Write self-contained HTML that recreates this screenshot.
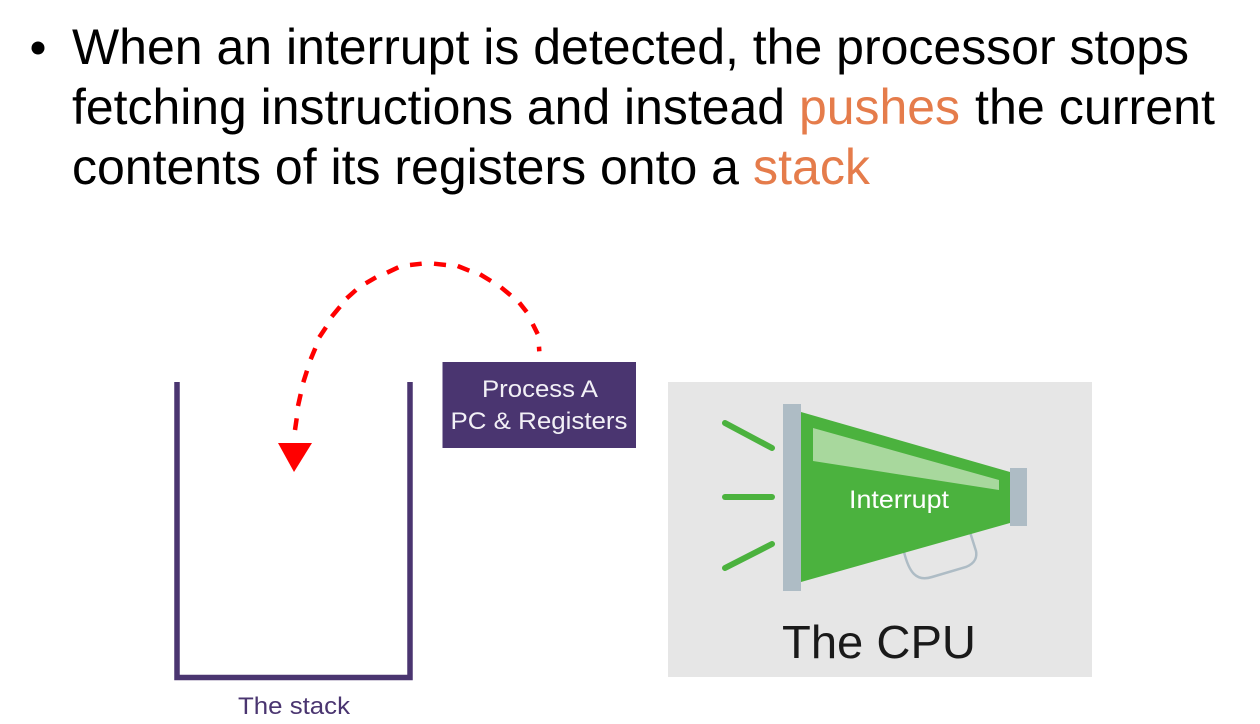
<!DOCTYPE html>
<html>
<head>
<meta charset="utf-8">
<style>
html,body{margin:0;padding:0;background:#fff;width:1260px;height:724px;overflow:hidden}
svg{display:block}
text{font-family:"Liberation Sans",sans-serif}
</style>
</head>
<body>
<svg width="1260" height="724" viewBox="0 0 1260 724" xmlns="http://www.w3.org/2000/svg">
<rect width="1260" height="724" fill="#fff"/>
<circle cx="38" cy="48" r="6.5" fill="#000"/>
<g font-size="50" fill="#000">
<text x="72" y="64" textLength="1117" lengthAdjust="spacingAndGlyphs">When an interrupt is detected, the processor stops</text>
<text x="72" y="124" textLength="713" lengthAdjust="spacingAndGlyphs">fetching instructions and instead</text>
<text x="799" y="124" fill="#e57c4b" textLength="161" lengthAdjust="spacingAndGlyphs">pushes</text>
<text x="975" y="124" textLength="240" lengthAdjust="spacingAndGlyphs">the current</text>
<text x="72" y="184" textLength="667" lengthAdjust="spacingAndGlyphs">contents of its registers onto a</text>
<text x="753" y="184" fill="#e57c4b" textLength="117" lengthAdjust="spacingAndGlyphs">stack</text>
</g>

<!-- stack -->
<path d="M177 382V677.5H410V382" fill="none" stroke="#4a3570" stroke-width="5.5"/>
<text x="294" y="714" font-size="24.5" fill="#4a3570" text-anchor="middle" textLength="112" lengthAdjust="spacingAndGlyphs">The stack</text>

<!-- arrow: individual dashes -->
<path fill="none" stroke="#ff0000" stroke-width="4.500" d="
M539 346.700L539.300 351.300
M532.700 324L537.700 334
M519.300 302.700L526.700 312
M501 287.300L510.700 295.300
M480 274.300L491 281
M457.700 266L469.300 270.700
M434 263.700L446 265
M410 265L421.700 263.700
M387 272.700L398.300 267.300
M365.700 283.300L376 277.300
M346.700 298.300L356 290
M331.700 316.700L340 306.700
M319.300 337.300L326 327.300
M310.700 359.300L315.300 348.300
M303.300 382.300L307 370.700
M298 406L300.700 394
M295 430L296.700 418.300"/>
<polygon points="278,443 312,443 294,472" fill="#ff0000"/>

<!-- process box -->
<rect x="442.500" y="362" width="193.500" height="86" fill="#4a3570"/>
<g font-size="24.500" fill="#f2f0f6" text-anchor="middle">
<text x="540" y="397" textLength="116" lengthAdjust="spacingAndGlyphs">Process A</text>
<text x="539" y="429" textLength="177" lengthAdjust="spacingAndGlyphs">PC &amp; Registers</text>
</g>

<!-- CPU -->
<rect x="668" y="382" width="424" height="295" fill="#e6e6e6"/>
<path d="M904 552C909 572 916 582 932 577L966 567C976 563 977 556 976 551L970 532" fill="none" stroke="#aebcc5" stroke-width="2.500"/>
<polygon points="801,412 1010,472 1010,523 801,582" fill="#4bb23e"/>
<polygon points="813,428 999,480 999,490 813,461" fill="#a8d89d"/>
<rect x="783" y="404" width="18" height="187" fill="#aebcc5"/>
<rect x="1010" y="468" width="17" height="58" fill="#aebcc5"/>
<g stroke="#4bb23e" stroke-width="6" stroke-linecap="round">
<line x1="725" y1="423" x2="772" y2="448"/>
<line x1="725" y1="497" x2="772" y2="497"/>
<line x1="725" y1="568" x2="772" y2="544"/>
</g>
<text x="849" y="508" font-size="25" fill="#fff" textLength="100" lengthAdjust="spacingAndGlyphs">Interrupt</text>
<text x="782" y="658" font-size="46" fill="#1a1a1a" textLength="194" lengthAdjust="spacingAndGlyphs">The CPU</text>
</svg>
</body>
</html>
